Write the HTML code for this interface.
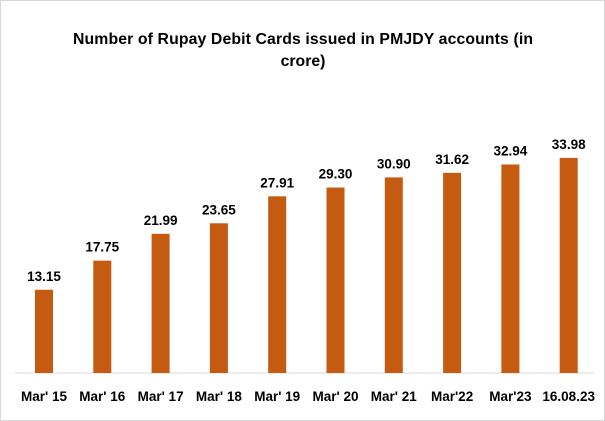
<!DOCTYPE html>
<html><head><style>
body{margin:0;background:#fff;}
svg{display:block;font-family:"Liberation Sans",sans-serif;}
</style></head><body>
<svg width="605" height="421" viewBox="0 0 605 421">
<rect x="0.5" y="0.5" width="604" height="420" fill="#fff" stroke="#d9d9d9"/>
<text x="303" y="44" text-anchor="middle" font-size="15.8" font-weight="bold" fill="#000" textLength="460">Number of Rupay Debit Cards issued in PMJDY accounts (in</text>
<text x="303" y="66" text-anchor="middle" font-size="15.8" font-weight="bold" fill="#000">crore)</text>
<line x1="15" y1="373" x2="594" y2="373" stroke="#d9d9d9" stroke-width="1"/>
<g fill="#C55A11" id="bars"></g>
<g font-size="13.5" font-weight="bold" text-anchor="middle" fill="#000" id="lbl"></g>
</svg>
<script>
var v=[13.15,17.75,21.99,23.65,27.91,29.30,30.90,31.62,32.94,33.98];
var c=["Mar' 15","Mar' 16","Mar' 17","Mar' 18","Mar' 19","Mar' 20","Mar' 21","Mar'22","Mar'23","16.08.23"];
var ns="http://www.w3.org/2000/svg",b=document.getElementById('bars'),l=document.getElementById('lbl');
for(var i=0;i<10;i++){var x=44+i*58.3,h=v[i]*6.33,t=373-h;
var r=document.createElementNS(ns,'rect');r.setAttribute('x',x-9);r.setAttribute('y',t);r.setAttribute('width',18);r.setAttribute('height',h);b.appendChild(r);
var a=document.createElementNS(ns,'text');a.setAttribute('x',x);a.setAttribute('y',t-9);a.textContent=v[i].toFixed(2);l.appendChild(a);
var d=document.createElementNS(ns,'text');d.setAttribute('x',x);d.setAttribute('y',401);d.textContent=c[i];l.appendChild(d);}
</script>
</body></html>
